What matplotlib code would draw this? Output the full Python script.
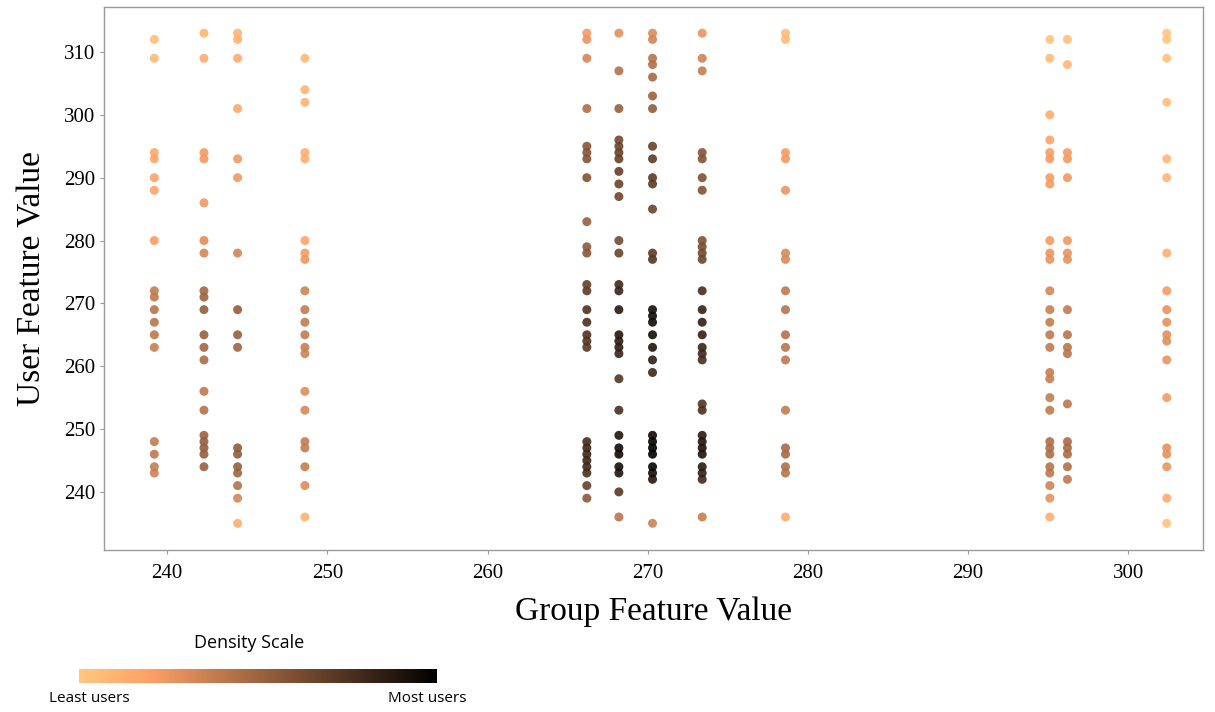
import numpy as np
import matplotlib.pyplot as plt
from matplotlib import cm, colors

# x position of each column of users (group feature value)
group_x = [239.2, 242.3, 244.4, 248.6, 266.2, 268.2, 270.3, 273.4, 278.6, 295.1, 296.2, 302.4]

# user feature values found in each column
col_239 = [312, 309, 294, 293, 290, 288, 280, 272, 271, 269, 267, 265, 263, 248, 246, 244, 243]
col_242 = [313, 309, 294, 293, 286, 280, 278, 272, 271, 269, 265, 263, 261, 256, 253, 249, 248, 247, 246, 244]
col_244 = [313, 312, 309, 301, 293, 290, 278, 269, 265, 263, 247, 246, 244, 243, 241, 239, 235]
col_248 = [309, 304, 302, 294, 293, 280, 278, 277, 272, 269, 267, 265, 263, 262, 256, 253, 248, 247, 244, 241, 236]
col_265 = [313, 312, 309, 301, 295, 294, 293, 290, 283, 279, 278, 273, 272, 269, 267, 265, 264, 263,
           248, 247, 246, 245, 244, 243, 241, 239]
col_267 = [313, 307, 301, 296, 295, 294, 293, 291, 289, 287, 280, 278, 273, 272, 269, 265, 264, 263, 262,
           258, 253, 249, 247, 246, 244, 243, 240, 236]
col_269 = [313, 312, 309, 308, 306, 303, 301, 295, 293, 290, 289, 285, 278, 277, 269, 268, 267, 265, 263,
           261, 259, 249, 248, 247, 246, 244, 243, 242, 235]
col_272 = [313, 309, 307, 294, 293, 290, 288, 280, 279, 278, 277, 272, 269, 267, 265, 263, 262, 261,
           254, 253, 249, 248, 247, 246, 244, 243, 242, 236]
col_277 = [313, 312, 294, 293, 288, 278, 277, 272, 269, 265, 263, 261, 253, 247, 246, 244, 243, 236]
col_293 = [312, 309, 300, 296, 294, 293, 290, 289, 280, 278, 277, 272, 269, 267, 265, 263, 259, 258,
           255, 253, 248, 247, 246, 244, 243, 241, 239, 236]
col_294 = [312, 308, 294, 293, 290, 280, 278, 277, 269, 265, 263, 262, 254, 248, 247, 246, 244, 242]
col_300 = [313, 312, 309, 302, 293, 290, 278, 272, 269, 267, 265, 264, 261, 255, 247, 246, 244, 239, 235]

columns = [col_239, col_242, col_244, col_248, col_265, col_267, col_269, col_272,
           col_277, col_293, col_294, col_300]

x = np.concatenate([[gx] * len(c) for gx, c in zip(group_x, columns)]).astype(float)
y = np.concatenate(columns).astype(float)

# point density (gaussian kernel) used for the colour
bx, by = 6.0, 7.0
dx = (x[:, None] - x[None, :]) / bx
dy = (y[:, None] - y[None, :]) / by
dens = np.exp(-0.5 * (dx ** 2 + dy ** 2)).sum(axis=1)
order = np.argsort(dens)
x, y, dens = x[order], y[order], dens[order]

fig = plt.figure(figsize=(12.15, 7.12), dpi=100)
ax = fig.add_axes([0.0856, 0.2275, 0.9045, 0.763])

cmap = plt.get_cmap('copper_r')
norm = colors.Normalize(vmin=dens.min(), vmax=dens.max())
ax.scatter(x, y, c=dens, cmap=cmap, norm=norm, s=42, alpha=0.9, edgecolors='none')

ax.set_xlim(236.06, 304.66)
ax.set_ylim(230.75, 317.2)
ax.set_xticks([240, 250, 260, 270, 280, 290, 300])
ax.set_yticks([240, 250, 260, 270, 280, 290, 300, 310])

for s in ax.spines.values():
    s.set_color('#9a9a9a')
    s.set_linewidth(1.0)
ax.tick_params(length=3, color='#9a9a9a', labelsize=15)
ax.tick_params(axis='x', pad=7)
for lab in ax.get_xticklabels() + ax.get_yticklabels():
    lab.set_fontfamily('Liberation Serif')

ax.set_xlabel('Group Feature Value', fontsize=24, family='Liberation Serif', labelpad=10)
ax.set_ylabel('User Feature Value', fontsize=24, family='Liberation Serif', labelpad=12)

# density scale bar
cax = fig.add_axes([79 / 1215, 1 - 683 / 712, 358 / 1215, 14 / 712])
cb = fig.colorbar(cm.ScalarMappable(norm=colors.Normalize(0, 1), cmap=cmap),
                  cax=cax, orientation='horizontal')
cb.outline.set_visible(False)
cb.set_ticks([])
fig.text(249 / 1215, 1 - 643 / 712, 'Density Scale', ha='center', va='center',
         fontsize=13, family='Open Sans')
fig.text(89 / 1215, 1 - 698 / 712, 'Least users', ha='center', va='center',
         fontsize=11, family='Open Sans')
fig.text(427 / 1215, 1 - 698 / 712, 'Most users', ha='center', va='center',
         fontsize=11, family='Open Sans')

fig.savefig('out.png', dpi=100)
